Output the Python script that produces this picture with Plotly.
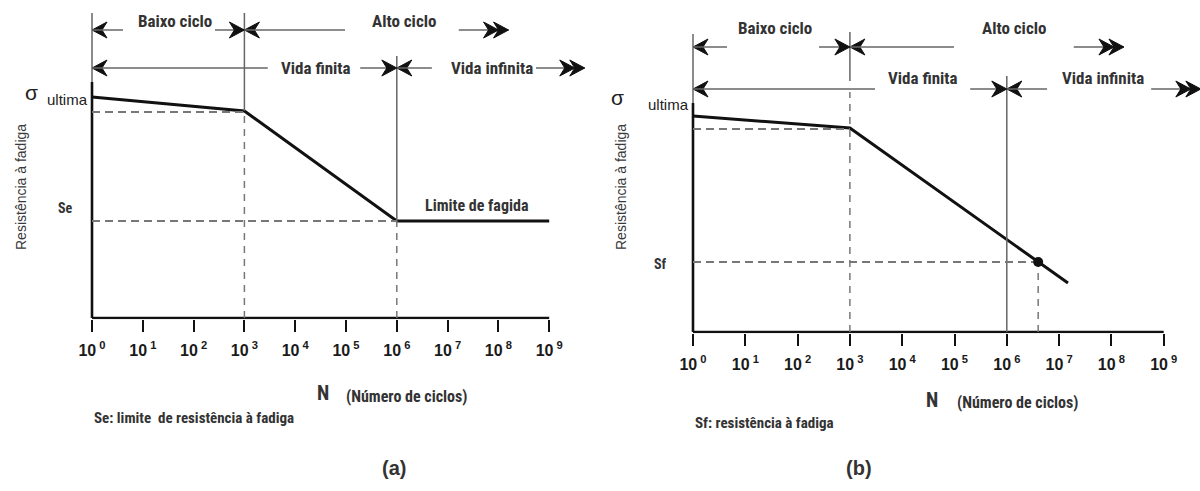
import plotly.graph_objects as go

W, H = 1200, 491

# ---------------- data ----------------
decades = list(range(0, 10))                      # log10(N)
tick_labels = ["10<sup>\u00a0%d</sup>" % d for d in decades]

# panel (a): S-N curve with endurance limit
a_logN = [0, 3, 6, 9]
a_S = [221, 207, 97, 97]
a_knee_S = 207
a_Se = 97

# panel (b): S-N curve without endurance limit
b_logN = [0, 3, 7.17]
b_S = [216, 204, 49]
b_knee_S = 204
b_Sf_logN = 6.6
b_Sf = 70

# ---------------- helpers ----------------
NARROW = "Liberation Sans Narrow, Roboto Condensed, Liberation Sans, Arial"
SANS = "Liberation Sans, Arial, sans-serif"
TXT = "#333333"
GRAY = "#666666"
DASHC = "#777777"

fig = go.Figure()
shapes = []
annos = []


def seg(xs, ys, ax, color=GRAY, width=1.5, dash=None):
    fig.add_trace(go.Scatter(x=xs, y=ys, mode="lines", xaxis=ax[0], yaxis=ax[1],
                             line=dict(color=color, width=width, dash=dash),
                             hoverinfo="skip", showlegend=False))


def shaft(x0, x1, y, ax):
    shapes.append(dict(type="line", xref=ax[0], yref=ax[1], x0=x0, x1=x1, y0=y, y1=y,
                       line=dict(color=GRAY, width=1.5)))


def _path(x, y, ax, path):
    shapes.append(dict(type="path", xref=ax[0], yref=ax[1], xsizemode="pixel", ysizemode="pixel",
                       xanchor=x, yanchor=y, path=path, fillcolor="#111111",
                       line=dict(color="#111111", width=1)))


def head(x, y, ax, direction):
    s = 1 if direction == "left" else -1
    _path(x, y, ax, "M0,0 L%d,-8 L%d,0 L%d,8 Z" % (15 * s, 10 * s, 15 * s))


def dhead(x, y, ax):
    _path(x, y, ax, "M0,0 L-15,-8 L-10,0 L-15,8 Z")
    _path(x, y, ax, "M-10,0 L-25,-8 L-20,0 L-25,8 Z")


def text(x, y, s, ax, size=15, family=NARROW, color=TXT, xanchor="center", bold=True,
         yref=None, **kw):
    annos.append(dict(x=x, y=y, xref=ax[0], yref=yref or ax[1], text=s, showarrow=False,
                      xanchor=xanchor, yanchor="middle",
                      font=dict(size=size, family=family, color=color,
                                weight="bold" if bold else "normal"), **kw))


def py(pix):
    """page pixel row -> paper y"""
    return 1 - pix / H


def panel(ax, logN, S, knee_S, yaxis_top, rows, labels):
    seg([0, 0], [0, yaxis_top], ax, color="#111111", width=2.6)   # y axis
    seg([0, 9], [0, 0], ax, color="#111111", width=2.6)           # x axis
    seg(logN, S, ax, color="#111111", width=3)                    # S-N curve
    seg([0, 3], [knee_S - 1, knee_S - 1], ax, color=DASHC, width=2, dash="8px,5px")
    r1, r2, t1, t2 = rows
    head(0, r1, ax, "left"); shaft(0, labels["b_l"], r1, ax)
    shaft(labels["b_r"], 3, r1, ax); head(3, r1, ax, "right")
    head(3, r1, ax, "left"); shaft(3, labels["a_l"], r1, ax)
    shaft(labels["a_r"], labels["a_end"], r1, ax); dhead(labels["a_end"], r1, ax)
    text(labels["b_c"], t1, "Baixo ciclo", ax, size=17)
    text(labels["a_c"], t1, "Alto ciclo", ax, size=17)
    head(0, r2, ax, "left"); shaft(0, labels["f_l"], r2, ax)
    shaft(labels["f_r"], 6, r2, ax); head(6, r2, ax, "right")
    head(6, r2, ax, "left"); shaft(6, labels["i_l"], r2, ax)
    shaft(labels["i_r"], labels["i_end"], r2, ax); dhead(labels["i_end"], r2, ax)
    text(labels["f_c"], t2, "Vida finita", ax, size=17)
    text(labels["i_c"], t2, "Vida infinita", ax, size=17)


AX_A = ("x", "y")
AX_B = ("x2", "y2")

# ---------------- panel (a) ----------------
panel(AX_A, a_logN, a_S, a_knee_S, 236,
      (288, 250, 297, 250),
      dict(b_l=0.61, b_c=1.63, b_r=2.42, a_l=4.98, a_c=6.14, a_r=7.22, a_end=8.2,
           f_l=3.46, f_c=4.41, f_r=5.28, i_l=6.69, i_c=7.87, i_r=8.74, i_end=9.7))
seg([0, 0], [236, 305], AX_A)
seg([3, 3], [a_knee_S, 305], AX_A)
seg([3, 3], [0, a_knee_S], AX_A, color=DASHC, width=1.5, dash="7px,6px")
seg([6, 6], [a_Se, 262], AX_A)
seg([6, 6], [0, a_Se], AX_A, color=DASHC, width=1.5, dash="7px,6px")
seg([0, 6], [a_Se, a_Se], AX_A, color=DASHC, width=2, dash="8px,5px")

text(-1.2, 226, "σ", AX_A, size=21, family=SANS, bold=False, color="#222222")
text(0, 219, "ultima", AX_A, size=15, family=SANS, xanchor="right", bold=False,
     color="#222222", xshift=-2)
text(-0.53, 110, "Se", AX_A, size=14)
text(7.58, 113, "Limite de fagida", AX_A, size=16)
text(4.55, py(393), "N", AX_A, size=20, yref="paper")
text(6.2, py(396), "(Número de ciclos)", AX_A, size=16, yref="paper")
text(0, py(418), "Se: limite\u00a0 de resistência à fadiga", AX_A, size=15,
     xanchor="left", yref="paper")
text(5.94, py(468), "(a)", AX_A, size=20, family=SANS, yref="paper")

# ---------------- panel (b) ----------------
panel(AX_B, b_logN, b_S, b_knee_S, 229,
      (285, 243, 304, 254),
      dict(b_l=0.65, b_c=1.57, b_r=2.41, a_l=4.99, a_c=6.14, a_r=7.28, a_end=8.24,
           f_l=3.48, f_c=4.4, f_r=5.3, i_l=6.77, i_c=7.84, i_r=8.76, i_end=9.71))
seg([0, 0], [229, 298], AX_B)
seg([3, 3], [251, 300], AX_B)
seg([3, 3], [0, 240], AX_B, color=DASHC, width=1.5, dash="7px,6px")
seg([6, 6], [0, 256], AX_B)
seg([0, b_Sf_logN], [b_Sf, b_Sf], AX_B, color=DASHC, width=2, dash="8px,5px")
seg([b_Sf_logN, b_Sf_logN], [0, b_Sf], AX_B, color=DASHC, width=1.5, dash="7px,6px")
fig.add_trace(go.Scatter(x=[b_Sf_logN], y=[b_Sf], mode="markers", xaxis="x2", yaxis="y2",
                         marker=dict(size=10, color="#111111"), hoverinfo="skip",
                         showlegend=False))

text(-1.44, 235, "σ", AX_B, size=21, family=SANS, bold=False, color="#222222")
text(0, 228, "ultima", AX_B, size=15, family=SANS, xanchor="right", bold=False,
     color="#222222", xshift=-2)
text(-0.63, 68, "Sf", AX_B, size=14)
text(4.57, py(400), "N", AX_B, size=20, yref="paper")
text(6.22, py(402), "(Número de ciclos)", AX_B, size=16, yref="paper")
text(0, py(423), "Sf: resistência à fadiga", AX_B, size=15, xanchor="left", yref="paper")
text(3.17, py(468), "(b)", AX_B, size=20, family=SANS, yref="paper")

# y-axis titles (paper coords)
for px in (21, 621):
    annos.append(dict(x=px / W, y=py(187), xref="paper", yref="paper",
                      text="Resistência à fadiga", showarrow=False, textangle=-90,
                      xanchor="center", yanchor="middle",
                      font=dict(size=14, family=SANS, color="#3a3a3a")))


# ---------------- axes ----------------
def xaxis_cfg(rng, dom, anchor):
    return dict(range=rng, domain=dom, anchor=anchor, showgrid=False, zeroline=False,
                showline=False, tickmode="array", tickvals=decades, ticktext=tick_labels,
                ticks="outside", ticklen=12, tickwidth=2.4, tickcolor="#111111",
                ticklabelstandoff=4,
                tickfont=dict(size=16, family=SANS, color="#1a1a1a", weight="bold"))


def yaxis_cfg(rng, dom, anchor):
    return dict(range=rng, domain=dom, anchor=anchor, visible=False, showgrid=False,
                zeroline=False)


a_x0, a_dec = 92, 50.8
b_x0, b_dec = 693, 52.3
a_rng = [-1.5, 10.0]
b_rng = [-1.6, (W - b_x0) / b_dec]

fig.update_layout(
    width=W, height=H, margin=dict(l=0, r=0, t=0, b=0), autosize=False,
    paper_bgcolor="white", plot_bgcolor="rgba(0,0,0,0)", showlegend=False,
    xaxis=xaxis_cfg(a_rng, [(a_x0 + a_rng[0] * a_dec) / W, (a_x0 + a_rng[1] * a_dec) / W], "y"),
    yaxis=yaxis_cfg([-1.3, 318], [1 - 319.3 / H, 1], "x"),
    xaxis2=xaxis_cfg(b_rng, [(b_x0 + b_rng[0] * b_dec) / W, 1.0], "y2"),
    yaxis2=yaxis_cfg([-1.3, 332], [1 - 333.3 / H, 1], "x2"),
    shapes=shapes, annotations=annos,
)

fig.write_html("out.html", config={"displayModeBar": False},
               post_script="document.body.style.margin='0';document.body.style.overflow='hidden';")
